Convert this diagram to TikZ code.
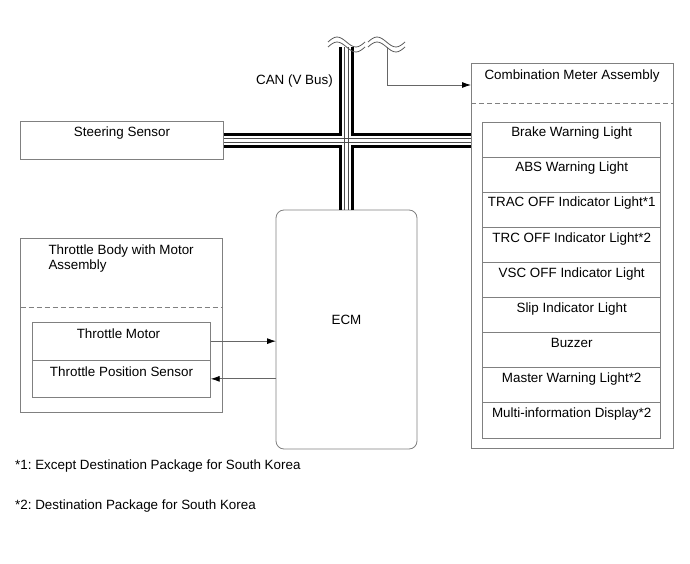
\documentclass[tikz,border=0pt]{standalone}
\usepackage{fontspec}
\setmainfont{Liberation Sans}
\usetikzlibrary{positioning,arrows.meta}
\frenchspacing

\tikzset{
  box/.style={draw=black!50, line width=0.8pt, inner sep=0pt, outer sep=0pt, anchor=north west},
  txt/.style={inner sep=0pt, font=\fontsize{13.4}{15}\selectfont},
  lbl/.style={txt, text height=9.5pt, text depth=2.5pt},
  dsh/.style={draw=black!50, line width=0.8pt, dash pattern=on 5pt off 3pt},
  bus/.style={line width=3.6pt, black},
  wire/.style={line width=0.7pt, black!70},
  sig/.style={draw=black!60, line width=0.8pt, -{Latex[length=9pt,width=6pt,color=black]}},
  brk/.style={line width=0.8pt, black!65},
}

\begin{document}
\begin{tikzpicture}[x=1pt,y=-1pt]
  \useasboundingbox (0,0) rectangle (690,564);
  % Steering sensor
  \node[box, minimum width=203pt, minimum height=38pt] (steer) at (20.5,121.5) {};
  \node[lbl, below=5.5pt of steer.north] {Steering Sensor};
  % ECM
  \node[box, rounded corners=8pt, minimum width=141pt, minimum height=239pt] (ecm) at (276,210) {};
  \node[lbl] at ([yshift=9pt]ecm.center) {ECM};
  % Combination meter
  \node[box, minimum width=202pt, minimum height=385pt] (cmb) at (471,63.3) {};
  \node[lbl, below=7pt of cmb.north] {Combination Meter Assembly};
  \draw[dsh] ([yshift=-40pt]cmb.north west) -- ([yshift=-40pt]cmb.north east);
  \foreach \t [count=\i] in {Brake Warning Light, ABS Warning Light, TRAC OFF Indicator Light*1,
      TRC OFF Indicator Light*2, VSC OFF Indicator Light, Slip Indicator Light, Buzzer,
      Master Warning Light*2, Multi-information Display*2} {
    \node[box, minimum width=178pt, minimum height=35.1pt] (r\i) at (482.7,{122+35.1*(\i-1)}) {};
    \node[lbl, below=5pt of r\i.north] {\t};
  }
  % Throttle body
  \node[box, minimum width=202pt, minimum height=174.4pt] (thr) at (20.7,238.3) {};
  \node[txt, align=left, below right=6.7pt and 27.6pt of thr.north west] {Throttle Body with Motor\\Assembly};
  \draw[dsh] ([yshift=-69pt]thr.north west) -- ([yshift=-69pt]thr.north east);
  \node[box, minimum width=178.4pt, minimum height=37.7pt] (mot) at (32.3,322.3) {};
  \node[box, minimum width=178.4pt, minimum height=37.7pt] (tps) at (32.3,360) {};
  \node[lbl, below=6.5pt of mot.north, xshift=-3pt] {Throttle Motor};
  \node[lbl, below=7pt of tps.north] {Throttle Position Sensor};
  \draw[sig] (mot.east) -- (mot.east -| ecm.west);
  \draw[sig] (tps.east -| ecm.west) -- (tps.east);
  % CAN bus
  \coordinate (hub) at (ecm.north |- steer.east);
  \coordinate (hr) at (cmb.west |- hub);
  \coordinate (vt) at (hub |- 0,47);
  \draw[bus] ([yshift=6pt]steer.east) -| ([xshift=-6pt]vt);
  \draw[bus] ([xshift=6pt]vt) |- ([yshift=6pt]hr);
  \draw[bus] ([yshift=-6pt]steer.east) -| ([xshift=-6pt]ecm.north);
  \draw[bus] ([xshift=6pt]ecm.north) |- ([yshift=-6pt]hr);
  \draw[wire] ([yshift=2pt]steer.east) -- ([yshift=2pt]hr);
  \draw[wire] ([yshift=-2pt]steer.east) -- ([yshift=-2pt]hr);
  \draw[wire] ([xshift=-2pt]vt) -- ([xshift=-2pt]ecm.north);
  \draw[wire] ([xshift=2pt]vt) -- ([xshift=2pt]ecm.north);
  \node[lbl, anchor=north east] at (333,75) {CAN (V Bus)};
  % break marks
  \foreach \dy in {0,5} {
    \draw[brk] (328,{42+\dy}) sin (337,{37+\dy}) cos (346.5,{42+\dy}) sin (356,{47+\dy}) cos (365,{42+\dy});
    \draw[brk] (368,{42+\dy}) sin (377,{37+\dy}) cos (386.5,{42+\dy}) sin (396,{47+\dy}) cos (405,{42+\dy});
  }
  \coordinate (cut) at (387,47);
  \draw[sig] (cut) |- (cmb.west |- 0,85);
  % notes
  \node[txt, anchor=north west] at (15,460) {*1: Except Destination Package for South Korea};
  \node[txt, anchor=north west] at (15,500) {*2: Destination Package for South Korea};
\end{tikzpicture}
\end{document}
